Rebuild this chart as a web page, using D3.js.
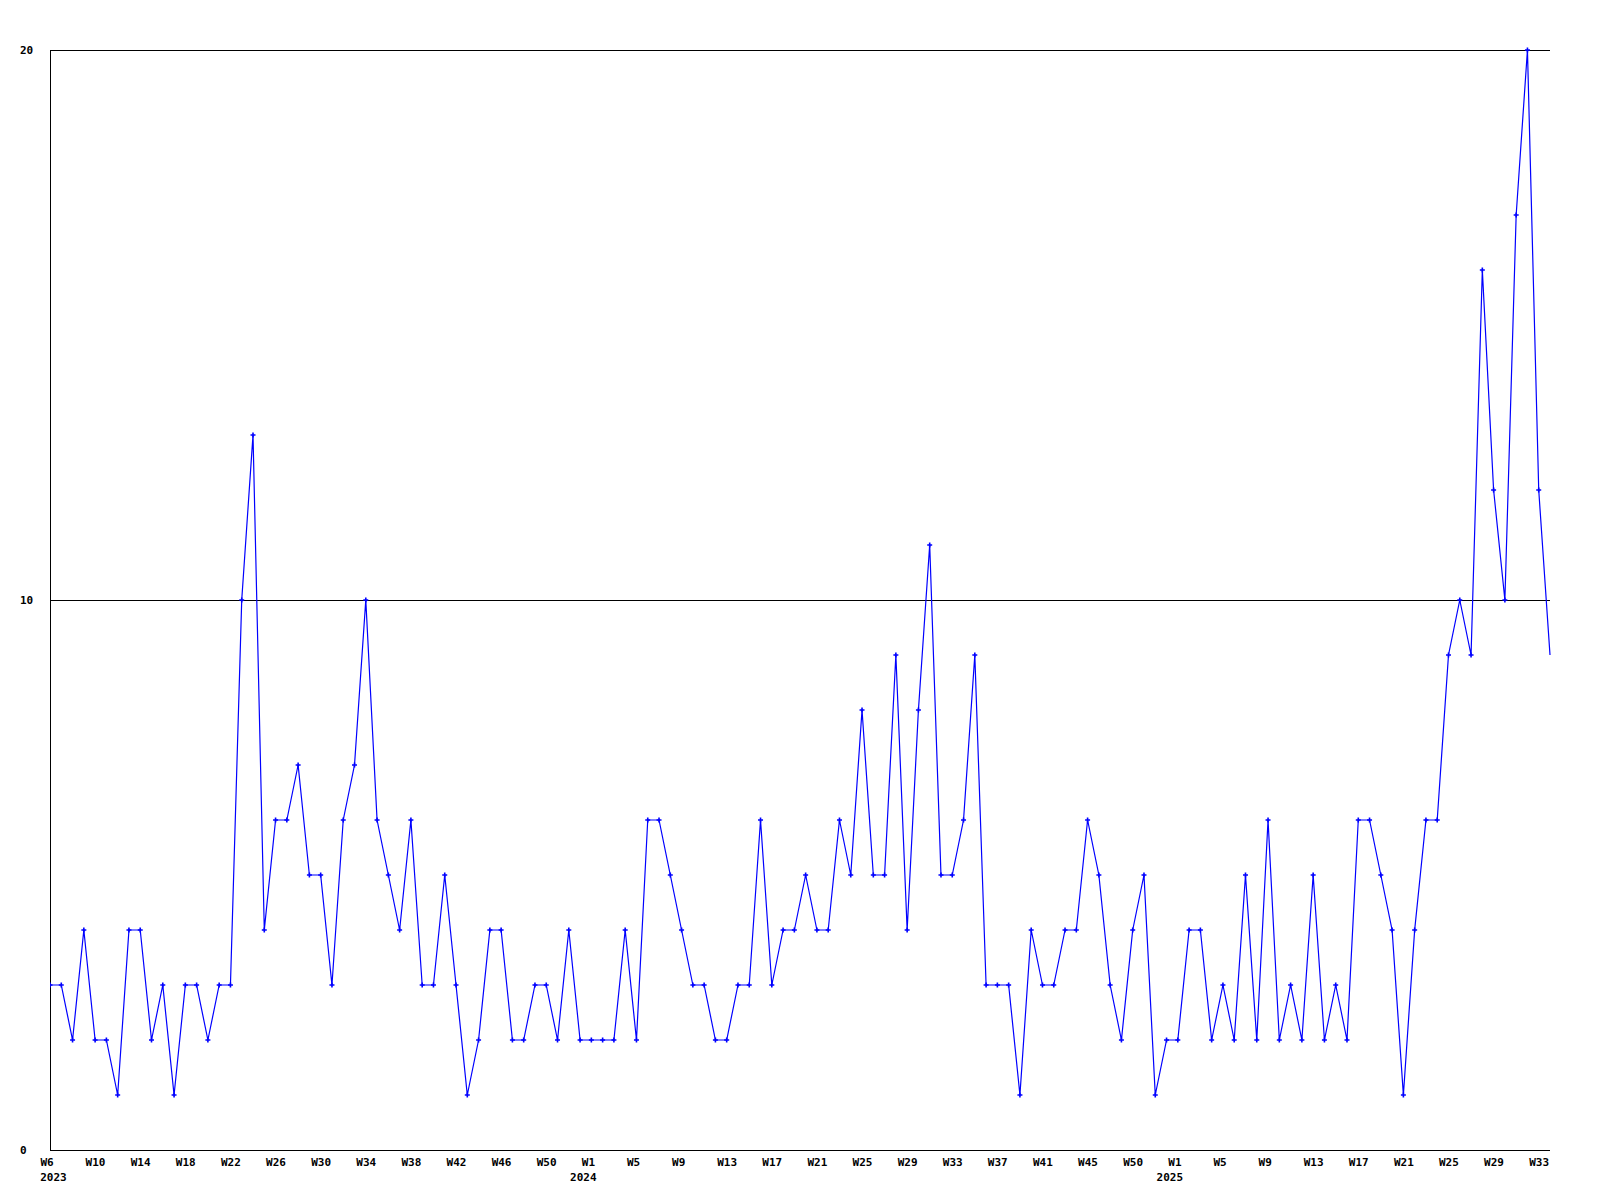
<!DOCTYPE html>
<html>
<head>
<meta charset="utf-8">
<script src="https://cdn.jsdelivr.net/npm/d3@7/dist/d3.min.js"></script>
<style>
  html, body { margin: 0; padding: 0; background: #ffffff; }
  svg { display: block; }
  text { font-family: "DejaVu Sans Mono", "Liberation Mono", monospace; font-weight: bold; font-size: 11px; fill: #000; }
</style>
</head>
<body>
<svg id="chart" width="1600" height="1200"></svg>
<script>
// Weekly counts, 2023 W6 .. 2025 W34 (one value per week)
const values = [
  3,3,2,4,2,2,1,4,4,2,3,1,3,3,2,3,3,10,13,4,6,6,7,5,
  5,3,6,7,10,6,5,4,6,3,3,5,3,1,2,4,4,2,2,3,3,2,4,
  2,2,2,2,4,2,6,6,5,4,3,3,2,2,3,3,6,3,4,4,5,4,4,
  6,5,8,5,5,9,4,8,11,5,5,6,9,3,3,3,1,4,3,3,4,4,6,
  5,3,2,4,5,1,2,2,4,4,2,3,2,5,2,6,2,3,2,5,2,3,2,
  6,6,5,4,1,4,6,6,9,10,9,16,12,10,17,20,12,9
];
// x-axis tick labels and the week index (position in `values`) they belong to
const tickLabels = ["W6","W10","W14","W18","W22","W26","W30","W34","W38","W42","W46","W50",
  "W1","W5","W9","W13","W17","W21","W25","W29","W33","W37","W41","W45","W50",
  "W1","W5","W9","W13","W17","W21","W25","W29","W33"];
const tickIndex = [0,4,8,12,16,20,24,28,32,36,40,44,
  48,52,56,60,64,68,72,76,80,84,88,92,96,
  100,104,108,112,116,120,124,128,132];
const yearLabels = ["2023","2024","2025"];
const yearIndex = [0,48,100];
const yTicks = [0,10,20];

const svg = d3.select("#chart");
const L = 50, R = 1550, T = 50, B = 1150;

const x = d3.scaleLinear().domain([0, values.length - 1]).range([L, R]);
const y = d3.scaleLinear().domain([0, 20]).range([B, T]);

svg.append("rect").attr("width", 1600).attr("height", 1200).attr("fill", "#fff");

// Y axis with full-width gridlines
const yAxis = d3.axisLeft(y).tickValues(yTicks).tickSizeInner(-(R - L)).tickSizeOuter(0).tickFormat(d3.format("d"));
const gy = svg.append("g").attr("transform", `translate(${L},0)`).call(yAxis);
gy.selectAll("path.domain").attr("stroke", "#000").attr("stroke-width", 1).attr("shape-rendering", "crispEdges");
gy.selectAll(".tick line").attr("stroke", "#000").attr("stroke-width", 1).attr("shape-rendering", "crispEdges");
gy.selectAll(".tick text")
  .attr("x", 20 - L).attr("dy", "0.35em")
  .attr("text-anchor", "start")
  .style("font-family", "'DejaVu Sans Mono', monospace").style("font-weight", "bold").style("font-size", "11px");

// X axis labels (left edge of each label sits 10px left of its week)
const xAxis = d3.axisBottom(x).tickValues(tickIndex).tickSize(0).tickPadding(8)
  .tickFormat((d, i) => tickLabels[i]);
const gx = svg.append("g").attr("transform", `translate(0,${B})`).call(xAxis);
gx.select("path.domain").remove();
gx.selectAll(".tick text")
  .attr("text-anchor", "start").attr("x", -10)
  .style("font-family", "'DejaVu Sans Mono', monospace").style("font-weight", "bold").style("font-size", "11px");

svg.append("g").selectAll("text.year").data(yearLabels).join("text")
  .attr("class", "year")
  .attr("x", (d, i) => Math.max(x(yearIndex[i]) - 8, x(0) + 3.5))
  .attr("y", B + 31)
  .attr("text-anchor", "middle")
  .text(d => d);

// clip to plot area
svg.append("clipPath").attr("id", "plotclip").append("rect")
  .attr("x", L).attr("y", T - 4).attr("width", R - L - 3).attr("height", B - T + 8);

const line = d3.line().x((d, i) => x(i)).y(d => y(d));
const plot = svg.append("g");
plot.append("path")
  .datum(values)
  .attr("d", line)
  .attr("fill", "none")
  .attr("stroke", "#0000ff")
  .attr("stroke-width", 1.2);

const pts = values.map((v, i) => [x(i), y(v)]);
plot.append("g").attr("clip-path", "url(#plotclip)")
  .selectAll("path.mk").data(pts).join("path")
  .attr("class", "mk")
  .attr("d", d => `M${d[0]-2.5},${d[1]}H${d[0]+2.5}M${d[0]},${d[1]-2.5}V${d[1]+2.5}`)
  .attr("stroke", "#0000ff")
  .attr("stroke-width", 1.6)
  .attr("fill", "none");
</script>
</body>
</html>
